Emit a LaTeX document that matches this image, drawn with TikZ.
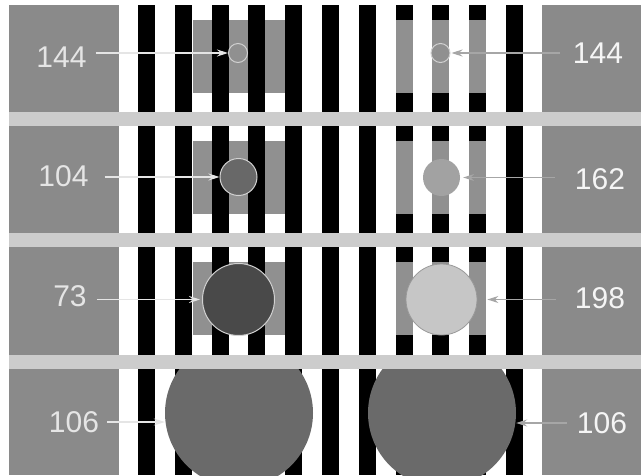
\documentclass[tikz,border=0pt]{standalone}
\usepackage{fontspec}
\setmainfont{Liberation Sans}
\usepackage{xcolor}
\usetikzlibrary{arrows.meta, positioning}

\definecolor{panelgray}{RGB}{138,138,138}
\definecolor{bandgray}{RGB}{204,204,204}
\definecolor{g144}{RGB}{144,144,144}
\definecolor{g104}{RGB}{104,104,104}
\definecolor{g73}{RGB}{73,73,73}
\definecolor{g162}{RGB}{162,162,162}
\definecolor{g198}{RGB}{198,198,198}
\definecolor{g106}{RGB}{106,106,106}

\begin{document}
\begin{tikzpicture}[
        x=1pt, y=-1pt,
        disc/.style={circle, inner sep=0pt, minimum size=#1},
        rim/.style={draw=white!82!black, line width=1pt},
        numl/.style={font=\fontsize{30}{30}\selectfont, text=white!90!black, inner sep=0pt},
        numr/.style={font=\fontsize{30}{30}\selectfont, text=white!96!black, inner sep=0pt},
        larr/.style={-{Stealth[length=11pt, width=7pt]}, line width=1.2pt, white!90!black},
        rarr/.style={-{Stealth[length=11pt, width=7pt]}, line width=1.2pt, black!35},
    ]
        \path[use as bounding box, clip] (0,0) rectangle (641,475);
        \fill[white] (0,0) rectangle (641,475);

        % Gray patches on the white stripes (left)
        \foreach \t in {5,126,247}
            \fill[g144] (193,{\t+15}) rectangle (285,{\t+88});

        % Black and white stripes
        \foreach \k in {0,...,10}
            \fill[black] ({138+36.8*\k},5) rectangle ({155+36.8*\k},475);

        % Gray patches on the black stripes (right)
        \foreach \t in {5,126,247}
            \foreach \k in {7,8,9}
                \fill[g144] ({138+36.8*\k},{\t+15}) rectangle ({155+36.8*\k},{\t+88});

        % Side panels
        \fill[panelgray] (9,5) rectangle (119,475);
        \fill[panelgray] (542,5) rectangle (641,475);

        % Discs
        \node[disc=19pt, fill=g144, rim] (cL1) at (238,53) {};
        \node[disc=19pt, fill=g144, rim] (cR1) at (440.5,53) {};
        \node[disc=37pt, fill=g104, rim] (cL2) at (238.5,177) {};
        \node[disc=37pt, fill=g162] (cR2) at (441.5,177.5) {};
        \node[disc=72pt, fill=g73, rim] (cL3) at (238.5,299.5) {};
        \node[disc=71pt, fill=g198, draw=black!40, line width=0.8pt] (cR3) at (441.5,299.5) {};
        \begin{scope}
            \clip (9,369) rectangle (641,475);
            \node[disc=148pt, fill=g106] (cL4) at (239,413) {};
            \node[disc=148pt, fill=g106] (cR4) at (442,413) {};
        \end{scope}

        % Bands between the rows
        \foreach \t in {112,233,355}
            \fill[bandgray] (9,\t) rectangle (641,{\t+14});

        % Labels
        \node[numl] (nL1) at (61.5,57.5) {144};
        \node[numl] (nL2) at (63.5,176) {104};
        \node[numl] (nL3) at (70,296.5) {73};
        \node[numl] (nL4) at (74,422) {106};
        \node[numr] (nR1) at (598,53) {144};
        \node[numr] (nR2) at (600,179) {162};
        \node[numr] (nR3) at (600,298) {198};
        \node[numr] (nR4) at (602,423) {106};

        % Arrows — left
        \draw[larr, shorten <=9pt] (nL1.east |- cL1) -- (cL1.west);
        \draw[larr, shorten <=16pt] (nL2.east |- cL2) -- (cL2.west);
        \draw[larr, shorten <=10pt, shorten >=2pt] (nL3.east |- cL3) -- (cL3.west);
        \draw[larr, shorten <=8pt] (nL4.east) -- (nL4.east -| cL4.west);

        % Arrows — right
        \draw[rarr, shorten <=13pt, shorten >=1pt] (nR1.west |- cR1) -- (cR1.east);
        \draw[rarr, shorten <=20pt, shorten >=3pt] (nR2.west |- cR2) -- (cR2.east);
        \draw[rarr, shorten <=19pt, shorten >=10pt] (nR3.west |- cR3) -- (cR3.east);
        \draw[rarr, shorten <=10pt] (nR4.west) -- (nR4.west -| cR4.east);
    \end{tikzpicture}
\end{document}
